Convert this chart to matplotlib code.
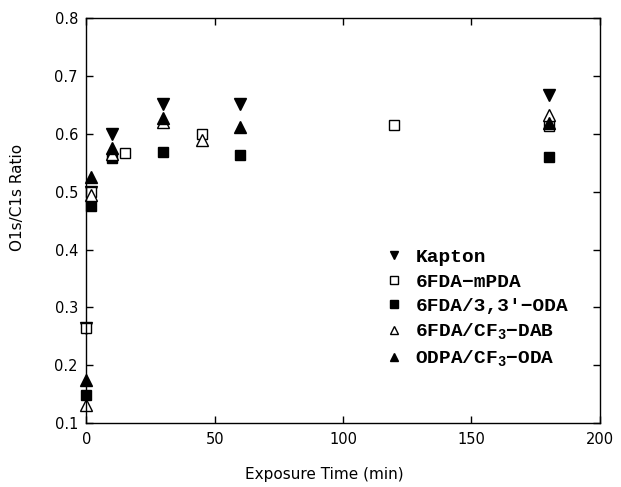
import numpy as np
import matplotlib
matplotlib.use("Agg")
import matplotlib.pyplot as plt

# exposure time (min) and O1s/C1s ratio for each polymer
kapton_t = [0, 2, 10, 30, 60, 180]
kapton_r = [0.265, 0.50, 0.60, 0.652, 0.652, 0.667]

mpda_t = [0, 2, 15, 45, 120, 180]
mpda_r = [0.265, 0.50, 0.566, 0.60, 0.616, 0.613]

oda33_t = [0, 2, 10, 30, 60, 180]
oda33_r = [0.148, 0.475, 0.558, 0.569, 0.563, 0.560]

dab_t = [0, 2, 10, 30, 45, 180]
dab_r = [0.132, 0.495, 0.565, 0.62, 0.59, 0.632]

odpa_t = [0, 2, 10, 30, 60, 180]
odpa_r = [0.175, 0.525, 0.575, 0.628, 0.612, 0.618]

fig = plt.figure(figsize=(6.21, 4.87), dpi=100)
ax = fig.add_axes([0.139, 0.131, 0.827, 0.832])

ax.plot(kapton_t, kapton_r, 'v', color='black', ms=8, ls='none',
        clip_on=False, label='Kapton')
ax.plot(mpda_t, mpda_r, 's', mfc='white', mec='black', mew=1, ms=7, ls='none',
        clip_on=False, label='6FDA\u2212mPDA')
ax.plot(oda33_t, oda33_r, 's', color='black', ms=7, ls='none',
        clip_on=False, label="6FDA/3,3'\u2212ODA")
ax.plot(dab_t, dab_r, '^', mfc='white', mec='black', mew=1, ms=8, ls='none',
        clip_on=False, label='6FDA/CF$_\\mathregular{3}$\u2212DAB')
ax.plot(odpa_t, odpa_r, '^', color='black', ms=8, ls='none',
        clip_on=False, label='ODPA/CF$_\\mathregular{3}$\u2212ODA')

ax.set_xlim(0, 200)
ax.set_ylim(0.1, 0.8)
ax.set_xticks([0, 50, 100, 150, 200])
ax.set_yticks(np.arange(0.1, 0.81, 0.1))
ax.set_yticklabels(['0.1', '0.2', '0.3', '0.4', '0.5', '0.6', '0.7', '0.8'])
ax.tick_params(direction='in', length=5, width=1, top=True, right=True,
               labelsize=10.5, pad=6)
for s in ax.spines.values():
    s.set_linewidth(1)

ax.set_xlabel('Exposure Time (min)', fontsize=11)
ax.set_ylabel('O1s/C1s Ratio', fontsize=11)
ax.xaxis.set_label_coords(0.463, -0.108)
ax.yaxis.set_label_coords(-0.12, 0.558)

leg = ax.legend(loc='upper left', bbox_to_anchor=(0.565, 0.45), frameon=False,
                prop={'family': 'Liberation Mono', 'weight': 'bold', 'size': 14},
                handletextpad=0.6, labelspacing=0.35, handlelength=1.0,
                markerscale=0.8, borderaxespad=0)

fig.savefig('out.png', dpi=100)
